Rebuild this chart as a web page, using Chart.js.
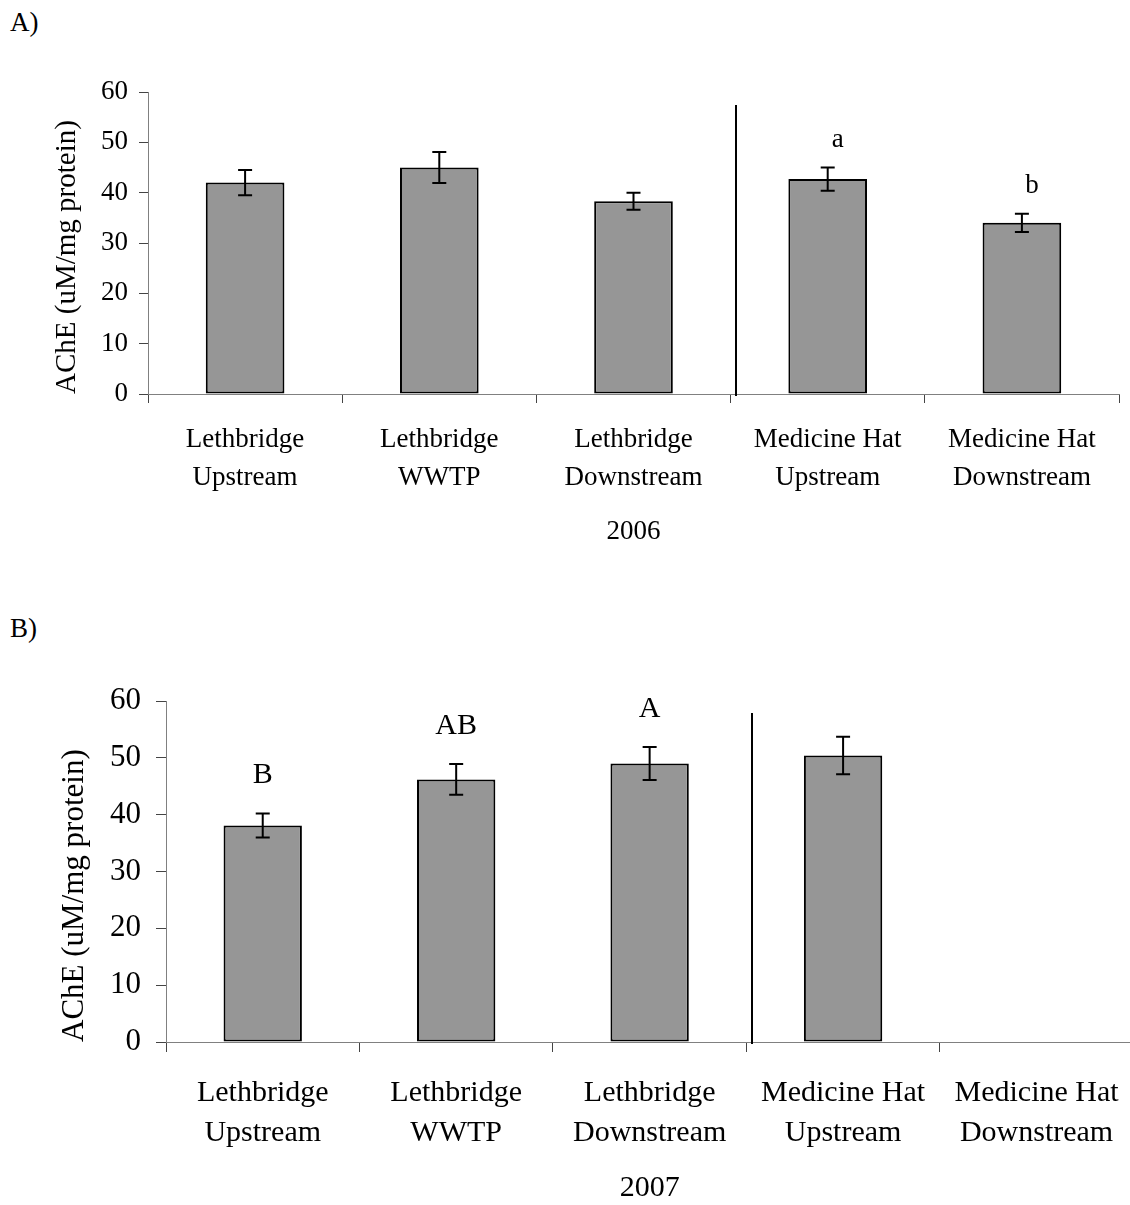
<!DOCTYPE html>
<html>
<head>
<meta charset="utf-8">
<script src="https://cdn.jsdelivr.net/npm/chart.js@4/dist/chart.umd.min.js"></script>
<style>
  html, body { margin: 0; padding: 0; background: #fff; overflow: hidden; }
  body { width: 1130px; height: 1205px; position: relative; }
  canvas { position: absolute; left: 0; }
  .panel-tag { position: absolute; left: 10px; font: 27px/27px "Liberation Serif", "Times New Roman", serif; color: #000; }
</style>
</head>
<body>
<div class="panel-tag" style="top:9px">A)</div>
<div class="panel-tag" style="top:615px">B)</div>
<canvas id="chartA" width="1130" height="560" style="top:0;width:1130px;height:560px"></canvas>
<canvas id="chartB" width="1140" height="605" style="top:600px;width:1140px;height:605px"></canvas>
<script>
// Sampling sites (same for both years)
const sites = [
  ['Lethbridge', 'Upstream'],
  ['Lethbridge', 'WWTP'],
  ['Lethbridge', 'Downstream'],
  ['Medicine Hat', 'Upstream'],
  ['Medicine Hat', 'Downstream']
];

// 2006 AChE activity (uM/mg protein): means and standard errors
const ache2006 = [42.0, 45.0, 38.3, 42.7, 34.0];
const err2006 = [2.5, 3.1, 1.7, 2.3, 1.8];
const letters2006 = ['', '', '', 'a', 'b'];

// 2007 AChE activity (Medicine Hat Downstream not sampled)
const ache2007 = [38.1, 46.2, 49.0, 50.4, null];
const err2007 = [2.1, 2.7, 2.9, 3.3, null];
const letters2007 = ['B', 'AB', 'A', '', ''];

const yTicks = [0, 10, 20, 30, 40, 50, 60];
const yTitle = 'AChE (uM/mg protein)';

const SERIF = '"Liberation Serif", "Times New Roman", serif';
Chart.defaults.font.family = SERIF;
Chart.defaults.color = '#000';

// Draws error bars, the river divider line and significance letters
const annotations = {
  id: 'annotations',
  afterDatasetsDraw(chart, args, opts) {
    const ctx = chart.ctx;
    const x = chart.scales.x, y = chart.scales.y;
    const meta = chart.getDatasetMeta(0);
    const vals = chart.data.datasets[0].data;
    ctx.save();
    ctx.strokeStyle = '#000';
    ctx.lineWidth = 2;
    // error bars
    vals.forEach((v, i) => {
      const e = opts.errors[i];
      if (v == null || e == null) return;
      const cx = meta.data[i].x;
      const yt = y.getPixelForValue(v + e), yb = y.getPixelForValue(v - e);
      ctx.beginPath();
      ctx.moveTo(cx, yt); ctx.lineTo(cx, yb);
      ctx.moveTo(cx - opts.cap, yt); ctx.lineTo(cx + opts.cap, yt);
      ctx.moveTo(cx - opts.cap, yb); ctx.lineTo(cx + opts.cap, yb);
      ctx.stroke();
    });
    // divider between the two cities
    const dx = Math.round(x.getPixelForValue(opts.dividerAt));
    ctx.beginPath();
    ctx.moveTo(dx, y.getPixelForValue(opts.dividerTop));
    ctx.lineTo(dx, y.getPixelForValue(0) + 2);
    ctx.stroke();
    // significance letters
    ctx.fillStyle = '#000';
    ctx.font = opts.letterFont;
    ctx.textAlign = 'center';
    ctx.textBaseline = 'middle';
    opts.letters.forEach((t, i) => {
      if (!t) return;
      const top = y.getPixelForValue(vals[i] + opts.errors[i]);
      ctx.fillText(t, meta.data[i].x + opts.letterDx, top - opts.letterGap);
    });
    ctx.restore();
  }
};

function makeChart(id, cfg) {
  return new Chart(document.getElementById(id), {
    type: 'bar',
    data: {
      labels: sites,
      datasets: [{
        data: cfg.values,
        backgroundColor: '#969696',
        borderColor: '#000',
        borderWidth: 2,
        borderSkipped: false,
        categoryPercentage: 1,
        barPercentage: 0.405
      }]
    },
    options: {
      responsive: false,
      animation: false,
      events: [],
      layout: { padding: { top: cfg.padTop, right: cfg.padRight, left: 0, bottom: 0 } },
      plugins: {
        legend: { display: false },
        tooltip: { enabled: false },
        annotations: {
          errors: cfg.errors,
          letters: cfg.letters,
          letterDx: cfg.letterDx,
          letterGap: cfg.letterGap,
          letterFont: cfg.fontSize + 'px ' + SERIF,
          cap: 7,
          dividerAt: 2.53,
          dividerTop: cfg.dividerTop
        }
      },
      scales: {
        x: {
          offset: true,
          border: { color: '#808080', width: 1 },
          grid: { offset: true, drawOnChartArea: false, tickLength: cfg.tickLen, color: '#444' },
          ticks: {
            maxRotation: 0, autoSkip: false, color: '#000', padding: cfg.xPad,
            font: { size: cfg.fontSize, lineHeight: cfg.xLine }
          },
          title: {
            display: true, text: cfg.year, color: '#000',
            font: { size: cfg.fontSize, lineHeight: 1 },
            padding: { top: 0, bottom: cfg.yearPad }
          },
          afterFit(scale) { scale.height = cfg.xHeight; }
        },
        y: {
          min: 0, max: 60,
          afterBuildTicks(scale) { scale.ticks = yTicks.map(v => ({ value: v })); },
          border: { color: '#808080', width: 1 },
          grid: { drawOnChartArea: false, tickLength: cfg.tickLen, color: '#444' },
          ticks: { color: '#000', padding: cfg.yPad, font: { size: cfg.tickFont } },
          title: {
            display: true, text: yTitle, color: '#000', align: 'start',
            font: { size: cfg.titleFont, lineHeight: 1.2 },
            padding: { top: cfg.yTitlePad, bottom: 0 }
          },
          afterFit(scale) { scale.width = cfg.yWidth; }
        }
      }
    },
    plugins: [annotations]
  });
}

makeChart('chartA', {
  values: ache2006, errors: err2006, letters: letters2006, year: '2006',
  fontSize: 27, tickFont: 27, titleFont: 29, padTop: 92, padRight: 11, yWidth: 148, xHeight: 166,
  tickLen: 9, xPad: 18, xLine: 1.4, yPad: 11, yearPad: 15, yTitlePad: 50,
  letterDx: 10, letterGap: 28, dividerTop: 57.4
});

makeChart('chartB', {
  values: ache2007, errors: err2007, letters: letters2007, year: '2007',
  fontSize: 30, tickFont: 31, titleFont: 31, padTop: 101, padRight: 4, yWidth: 166, xHeight: 163,
  tickLen: 10, xPad: 21, xLine: 1.33, yPad: 15, yearPad: 2, yTitlePad: 56,
  letterDx: 0, letterGap: 38, dividerTop: 57.9
});
</script>
</body>
</html>
